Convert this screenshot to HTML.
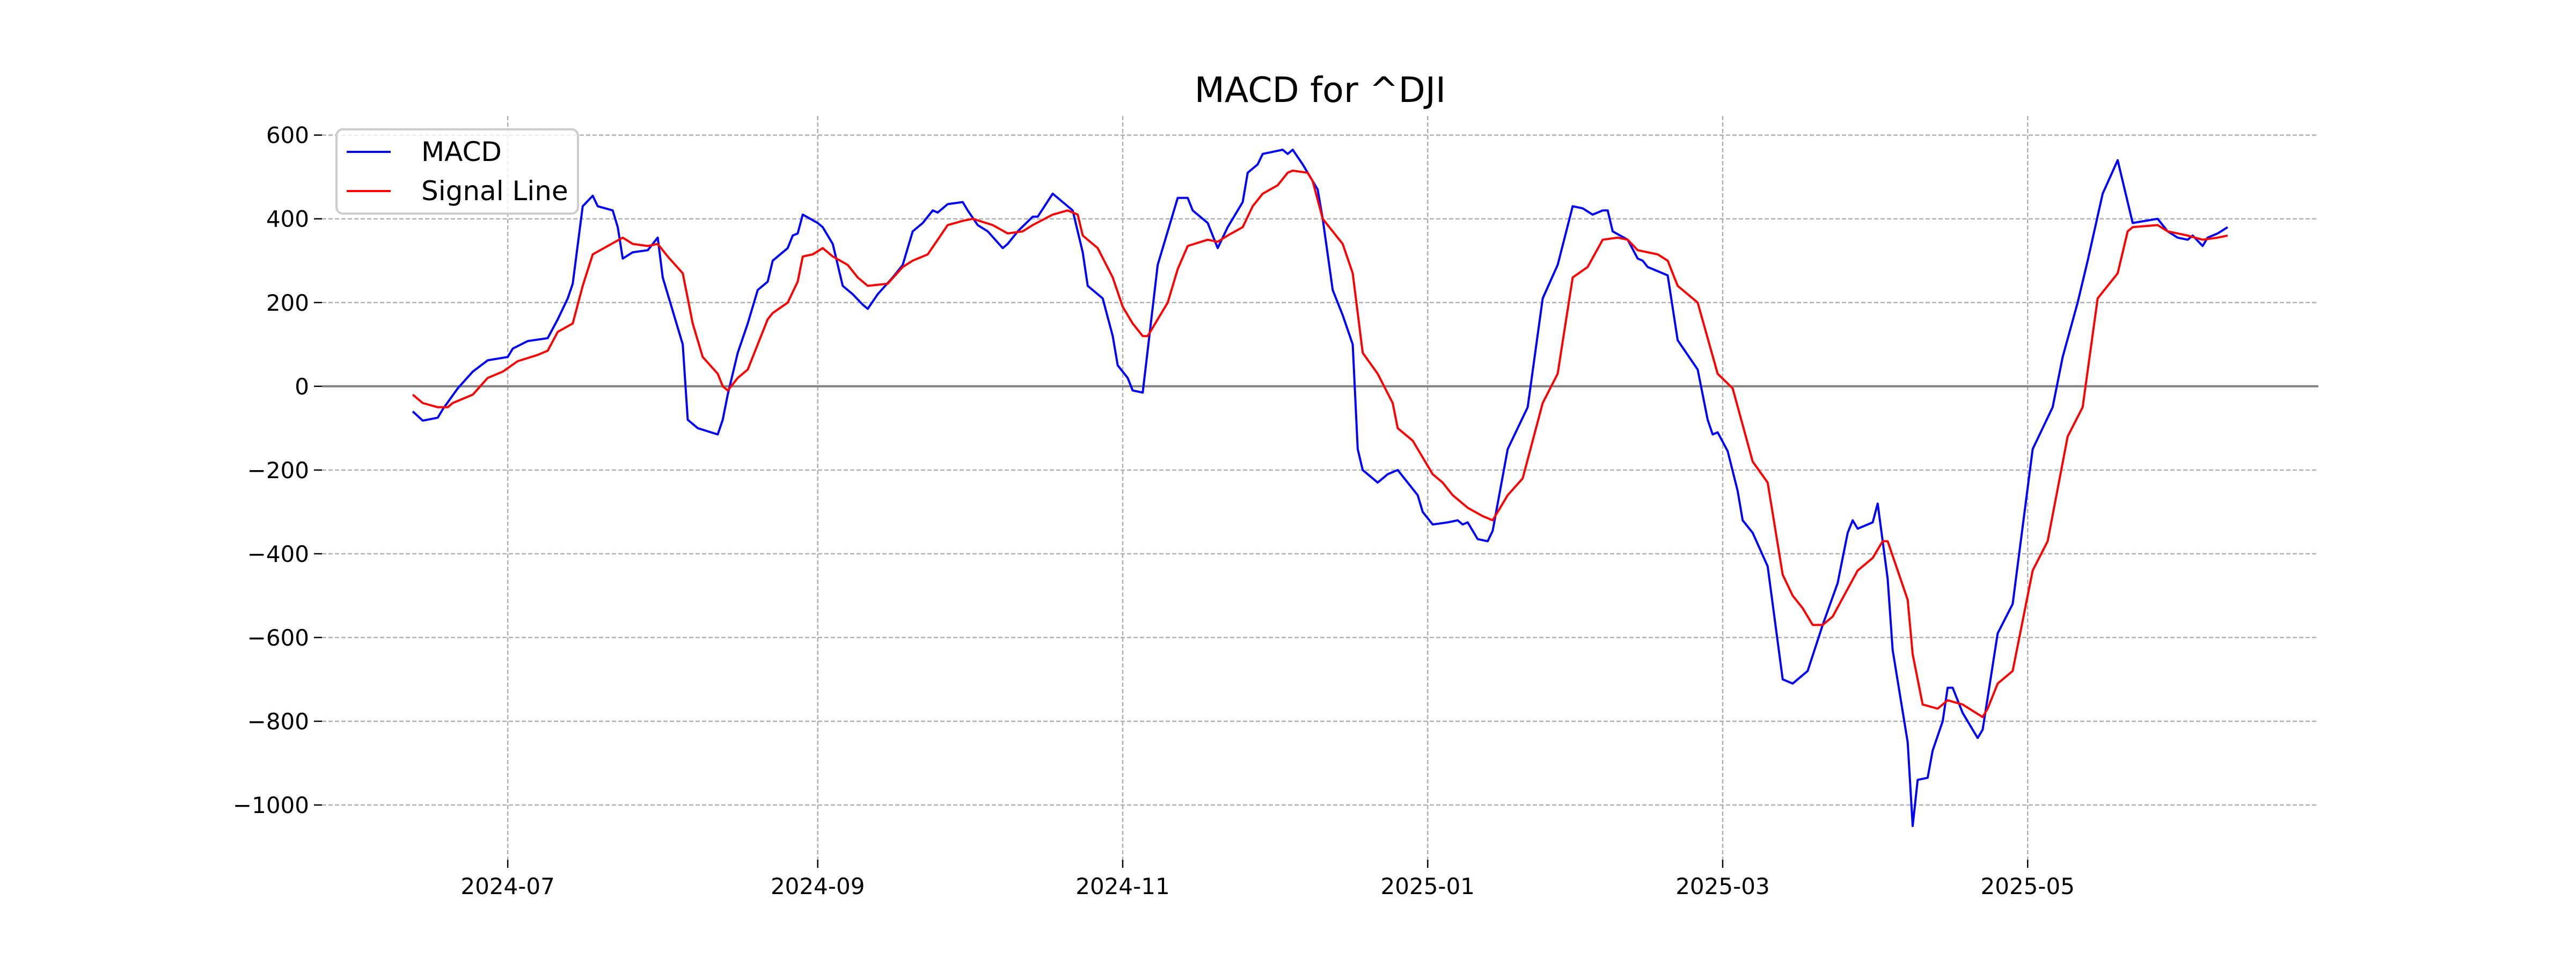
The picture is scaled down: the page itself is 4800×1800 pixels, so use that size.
<!DOCTYPE html>
<html><head><meta charset="utf-8"><style>
html,body{margin:0;padding:0;background:#fff;}
svg{display:block;font-family:"DejaVu Sans","Liberation Sans",sans-serif;}
</style></head><body>
<svg id="chart" width="4800" height="1800" viewBox="0 0 4800 1800" xmlns="http://www.w3.org/2000/svg">
<rect width="4800" height="1800" fill="#fff"/>
<text x="2460" y="190" font-size="65" text-anchor="middle" fill="#000">MACD for ^DJI</text>
<g id="grid"></g>
<g id="series"></g>
<g id="legend">
<rect x="627" y="241" width="450" height="157" rx="12" fill="#fff" fill-opacity="0.8" stroke="#cccccc" stroke-width="4"/>
<line x1="646" y1="283" x2="728" y2="283" stroke="#0000ff" stroke-width="4"/>
<text x="785" y="300" font-size="50">MACD</text>
<line x1="646" y1="356" x2="728" y2="356" stroke="#ff0000" stroke-width="4"/>
<text x="785" y="373" font-size="50">Signal Line</text>
</g>
</svg>
<script>
const baseDate = "2024-07-01";
const macdDays = [-19,-17,-14,-13,-10,-7,-4,0,1,4,8,10,12,13,15,17,18,21,22,23,25,28,30,31,35,36,38,42,43,44,46,48,50,52,53,56,57,58,59,62,63,65,67,69,71,72,74,77,79,81,83,85,86,88,91,92,94,96,99,100,102,105,106,109,111,113,115,116,119,121,122,124,125,127,130,132,134,136,137,140,142,144,147,148,150,151,153,155,156,157,159,161,162,163,165,167,169,170,171,174,176,178,182,183,185,188,190,191,192,194,196,197,200,204,207,210,213,215,217,219,220,221,224,226,227,228,232,234,238,240,241,242,244,246,247,249,252,255,257,260,263,266,268,269,270,273,274,276,277,280,281,282,284,285,287,288,289,291,294,295,298,301,305,309,311,314,316,319,322,325,330,332,334,336,337,339,340,342,344];
const macdValues = [-60,-82,-75,-55,-5,35,62,70,90,108,115,160,210,245,430,455,430,420,380,305,320,325,355,260,100,-80,-100,-115,-80,-20,80,150,230,250,300,330,360,365,410,390,380,340,240,220,195,185,220,260,290,370,390,420,415,435,440,420,385,370,330,340,370,405,405,460,440,420,320,240,210,120,50,20,-10,-15,290,370,450,450,420,390,330,380,440,510,530,555,560,565,555,565,530,490,470,400,230,170,100,-150,-200,-230,-210,-200,-260,-300,-330,-325,-320,-330,-325,-365,-370,-345,-150,-50,210,290,430,425,410,420,420,370,350,305,300,285,265,110,40,-80,-115,-110,-155,-250,-320,-350,-430,-700,-710,-680,-570,-470,-350,-320,-340,-325,-280,-460,-630,-850,-1050,-940,-935,-870,-800,-720,-720,-780,-840,-820,-590,-520,-150,-50,70,200,300,460,540,390,400,370,355,350,360,335,355,365,380];
const signalDays = [-19,-17,-14,-12,-11,-7,-4,-1,2,6,8,10,13,15,17,20,23,25,28,30,32,35,37,39,42,43,44,46,48,52,53,56,58,59,61,63,65,68,70,72,76,79,81,84,86,88,91,93,97,100,103,105,109,112,114,115,118,121,123,125,127,128,130,132,134,136,140,142,144,147,149,151,154,156,157,160,161,163,165,167,169,171,174,177,178,181,183,185,187,189,192,195,197,200,203,207,210,213,216,219,222,224,226,230,232,234,238,242,245,249,252,255,257,259,261,263,265,270,273,275,276,280,281,283,286,288,291,295,296,298,301,305,308,312,315,318,322,324,325,330,332,336,339,342,344];
const signalValues = [-20,-40,-50,-50,-40,-20,20,35,60,75,85,130,150,240,315,335,355,340,335,340,310,270,150,70,30,0,-10,20,40,160,175,200,250,310,315,330,310,290,260,240,245,285,300,315,350,385,395,400,385,365,370,385,410,420,410,360,330,260,190,150,120,120,160,200,280,335,350,345,360,380,430,460,480,510,515,510,490,400,370,340,270,80,30,-40,-100,-130,-170,-210,-230,-260,-290,-310,-320,-260,-220,-40,30,260,285,350,355,350,325,315,300,240,200,30,-5,-180,-230,-450,-500,-530,-570,-570,-550,-440,-410,-370,-370,-510,-640,-760,-770,-750,-760,-790,-770,-710,-680,-440,-370,-120,-50,210,270,370,380,385,370,360,350,355,360];
const yTicks = [600,400,200,0,-200,-400,-600,-800,-1000];
const xTickLabels = ["2024-07","2024-09","2024-11","2025-01","2025-03","2025-05"];

const NS = "http://www.w3.org/2000/svg";
const X0 = 600, X1 = 4320, Y0 = 216, Y1 = 1602;
function dayOf(s){ return (Date.parse(s+"-01") - Date.parse(baseDate))/86400000; }
const allDays = macdDays.concat(signalDays);
const dMin = Math.min(...allDays), dMax = Math.max(...allDays);
const dPad = (dMax-dMin)*0.05;
const allVals = macdValues.concat(signalValues);
const vMin = Math.min(...allVals), vMax = Math.max(...allVals);
const vPad = (vMax-vMin)*0.05;
function xScale(d){ return X0 + (d-(dMin-dPad))/((dMax+dPad)-(dMin-dPad))*(X1-X0); }
function yScale(v){ return Y1 - (v-(vMin-vPad))/((vMax+vPad)-(vMin-vPad))*(Y1-Y0); }
function mk(tag, attrs, parent){ const e=document.createElementNS(NS,tag); for(const k in attrs) e.setAttribute(k,attrs[k]); parent.appendChild(e); return e; }
const grid = document.getElementById("grid");
const series = document.getElementById("series");
function fmt(v){ return v<0 ? "\u2212"+Math.abs(v) : String(v); }
yTicks.forEach(v=>{
  const y=yScale(v);
  const g=mk("line",{x1:X0,x2:X1,y1:y,y2:y,stroke:"#b0b0b0","stroke-width":2.5,"stroke-dasharray":"8,4"},grid);
  
  
  const t=mk("line",{x1:X0-15,x2:X0,y1:y,y2:y,stroke:"#000","stroke-width":2.5},grid);
  
  
  const l=mk("text",{x:X0-24,y:y+15,"font-size":42,"text-anchor":"end"},grid);
  l.textContent=fmt(v);
  
  
});
xTickLabels.forEach(s=>{
  const x=xScale(dayOf(s));
  const g=mk("line",{x1:x,x2:x,y1:Y0,y2:Y1,stroke:"#b0b0b0","stroke-width":2.5,"stroke-dasharray":"8,4"},grid);
  
  
  const t=mk("line",{x1:x,x2:x,y1:Y1,y2:Y1+15,stroke:"#000","stroke-width":2.5},grid);
  
  
  const l=mk("text",{x:x,y:Y1+64,"font-size":42,"text-anchor":"middle"},grid);
  l.textContent=s;
  
  
});
const zl=mk("line",{x1:X0,x2:X1,y1:yScale(0),y2:yScale(0),stroke:"#808080","stroke-width":4},grid);


function path(days, vals, color, name){
  const d=days.map((dd,i)=>(i?"L":"M")+xScale(dd).toFixed(1)+","+yScale(vals[i]).toFixed(1)).join("");
  const p=mk("path",{d:d,fill:"none",stroke:color,"stroke-width":4,"stroke-linejoin":"round"},series);
  
  
}
path(macdDays, macdValues, "#0000ff", "macd-line");
path(signalDays, signalValues, "#ff0000", "signal-line");
</script>
</body></html>
